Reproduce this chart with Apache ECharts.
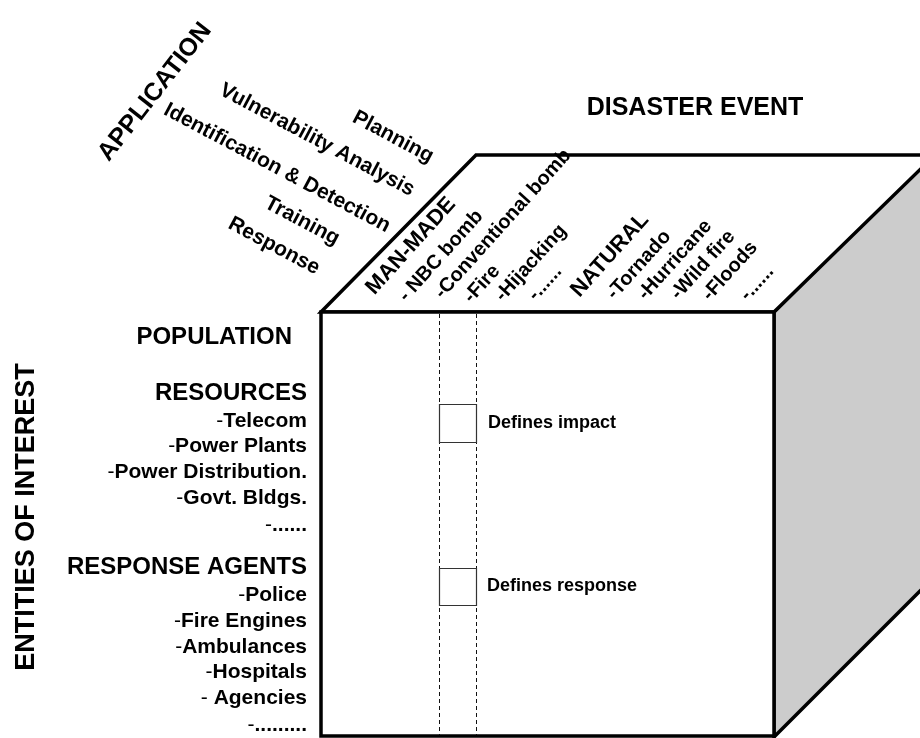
<!DOCTYPE html>
<html>
<head>
<meta charset="utf-8">
<script src="https://cdn.jsdelivr.net/npm/echarts@6/dist/echarts.min.js"></script>
<style>
html,body{margin:0;padding:0;background:#fff;}
#chart{width:920px;height:738px;}
</style>
</head>
<body>
<div id="chart"></div>
<script>
// ---------- content ----------
const applicationTitle = 'APPLICATION';
const applications = ['Planning', 'Vulnerability Analysis', 'Identification & Detection', 'Training', 'Response'];
const eventTitle = 'DISASTER EVENT';
const eventGroups = ['MAN-MADE', 'NATURAL'];
const manMadeEvents = ['- NBC bomb', '-Conventional bomb', '-Fire', '-Hijacking', '-......'];
const naturalEvents = ['-Tornado', '-Hurricane', '-Wild fire', '-Floods', '-......'];
const entityTitle = 'ENTITIES OF INTEREST';
const entityGroups = ['POPULATION', 'RESOURCES', 'RESPONSE AGENTS'];
const resources = ['Telecom', 'Power Plants', 'Power Distribution.', 'Govt. Bldgs.', '......'];
const responseAgents = ['Police', 'Fire Engines', 'Ambulances', 'Hospitals', ' Agencies', '.........'];
const cellNotes = ['Defines impact', 'Defines response'];

// ---------- diagram geometry (data units == pixels) ----------
const frontFace = [[321, 312], [774, 312], [774, 736], [321, 736]];
const topFace = [[321, 312], [476, 155], [935, 155], [774, 312]];
const sideFace = [[774, 312], [930, 156], [930, 581], [774, 737]];
const columnEdges = [439.5, 476.5];
const columnSpan = [312, 737];
const cells = [[439.5, 404.5, 476.5, 442.5], [439.5, 568.5, 476.5, 605.5]];

const applicationTitlePos = [155, 92];
const applicationPos = [[393, 137], [317, 140], [277, 168], [302, 221], [274, 246]];
const eventTitlePos = [695, 108];
const eventGroupPos = [[411, 246], [610, 255]];
const manMadePos = [[441, 256], [503, 224], [482, 284], [531, 263], [545, 283]];
const naturalPos = [[639, 265], [675, 260], [703, 265], [730, 271], [757, 283]];
const entityTitlePos = [27, 517];
const entityGroupPos = [[292, 337], [307, 393], [307, 567]];
const resourceY = [421, 446, 472, 498, 525];
const agentY = [595, 621, 647, 672, 698, 725];
const entityRight = 307;
const cellNotePos = [[488, 423], [487, 586]];

const FONT = '"Liberation Sans", Arial, Helvetica, sans-serif';
const deg = Math.PI / 180;

function textSeries(items, positions, opts) {
  return {
    type: 'custom',
    coordinateSystem: 'cartesian2d',
    silent: true,
    clip: false,
    data: items.map((t, i) => [positions[i][0], positions[i][1], i]),
    renderItem: function (params, api) {
      const p = api.coord([api.value(0), api.value(1)]);
      const i = api.value(2);
      const style = {
        text: opts.format ? opts.format(items[i]) : items[i],
        font: opts.font,
        fill: '#000',
        align: opts.align || 'center',
        verticalAlign: 'middle'
      };
      if (opts.rich) style.rich = opts.rich;
      return { type: 'text', x: p[0], y: p[1], rotation: (opts.rotate || 0) * deg, style: style };
    }
  };
}

function polySeries(polys, fill, stroke, width) {
  return {
    type: 'custom',
    coordinateSystem: 'cartesian2d',
    silent: true,
    clip: false,
    data: polys.map((p, i) => [p[0][0], p[0][1], i]),
    renderItem: function (params, api) {
      const i = api.value(2);
      const pts = polys[i].map(v => api.coord(v));
      return {
        type: 'polygon',
        shape: { points: pts },
        style: { fill: fill, stroke: stroke, lineWidth: width, lineJoin: 'miter' }
      };
    }
  };
}

const dashedLines = columnEdges.map(x => [[x, columnSpan[0]], [x, columnSpan[1]]]);
const cellRects = cells.map(c => [[c[0], c[1]], [c[2], c[1]], [c[2], c[3]], [c[0], c[3]]]);

const itemRich = {
  n: { font: '21px ' + FONT, fill: '#000' },
  b: { font: 'bold 21px ' + FONT, fill: '#000' }
};
const fmtItem = s => '{n|-}{b|' + s + '}';

const chart = echarts.init(document.getElementById('chart'), null, { renderer: 'canvas' });
chart.setOption({
  backgroundColor: '#ffffff',
  animation: false,
  grid: { left: 0, right: 0, top: 0, bottom: 0, containLabel: false },
  xAxis: { type: 'value', min: 0, max: 920, show: false },
  yAxis: { type: 'value', min: 0, max: 738, inverse: true, show: false },
  series: [
    polySeries([sideFace], '#cccccc', '#000', 3.5),
    polySeries([topFace], '#ffffff', '#000', 3.5),
    polySeries([frontFace], '#ffffff', '#000', 3.5),
    {
      type: 'custom',
      coordinateSystem: 'cartesian2d',
      silent: true,
      data: dashedLines.map((l, i) => [l[0][0], l[0][1], i]),
      renderItem: function (params, api) {
        const l = dashedLines[api.value(2)];
        const a = api.coord(l[0]), b = api.coord(l[1]);
        return {
          type: 'line',
          shape: { x1: a[0], y1: a[1] + 2, x2: b[0], y2: b[1] - 2 },
          style: { stroke: '#111', lineWidth: 1, lineDash: [4, 3] }
        };
      }
    },
    polySeries(cellRects, '#ffffff', '#333', 1.2),
    textSeries([applicationTitle], [applicationTitlePos], { font: 'bold 25px ' + FONT, rotate: 52 }),
    textSeries(applications, applicationPos, { font: 'bold 21px ' + FONT, rotate: -28 }),
    textSeries([eventTitle], [eventTitlePos], { font: 'bold 25px ' + FONT }),
    textSeries(eventGroups, eventGroupPos, { font: 'bold 22px ' + FONT, rotate: 48 }),
    textSeries(manMadeEvents, manMadePos, { font: 'bold 20px ' + FONT, rotate: 48 }),
    textSeries(naturalEvents, naturalPos, { font: 'bold 20px ' + FONT, rotate: 48 }),
    textSeries([entityTitle], [entityTitlePos], { font: 'bold 27px ' + FONT, rotate: 90 }),
    textSeries(entityGroups, entityGroupPos, { font: 'bold 24px ' + FONT, align: 'right' }),
    textSeries(resources, resourceY.map(y => [entityRight, y]), { font: 'bold 21px ' + FONT, align: 'right', rich: itemRich, format: fmtItem }),
    textSeries(responseAgents, agentY.map(y => [entityRight, y]), { font: 'bold 21px ' + FONT, align: 'right', rich: itemRich, format: fmtItem }),
    textSeries(cellNotes, cellNotePos, { font: 'bold 18px ' + FONT, align: 'left' })
  ]
});
</script>
</body>
</html>
